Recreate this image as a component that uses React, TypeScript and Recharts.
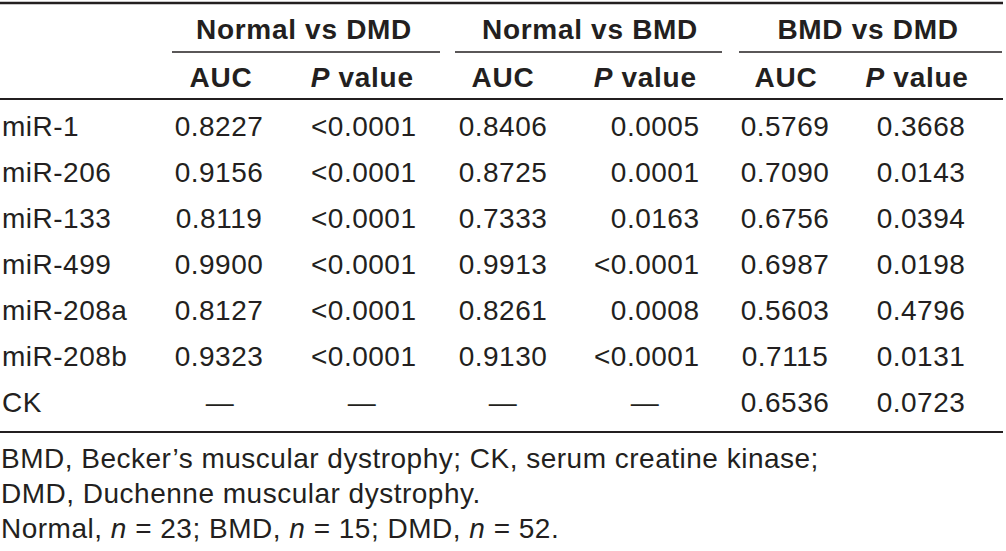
import { ReferenceLine, Scatter, ScatterChart, XAxis, YAxis } from 'recharts'

// table content
const groupTitles = ['Normal vs DMD', 'Normal vs BMD', 'BMD vs DMD']
const rowLabels = ['miR-1', 'miR-206', 'miR-133', 'miR-499', 'miR-208a', 'miR-208b', 'CK']
const aucNormalDmd = ['0.8227', '0.9156', '0.8119', '0.9900', '0.8127', '0.9323', '—']
const pNormalDmd = ['<0.0001', '<0.0001', '<0.0001', '<0.0001', '<0.0001', '<0.0001', '—']
const aucNormalBmd = ['0.8406', '0.8725', '0.7333', '0.9913', '0.8261', '0.9130', '—']
const pNormalBmd = ['0.0005', '0.0001', '0.0163', '<0.0001', '0.0008', '<0.0001', '—']
const aucBmdDmd = ['0.5769', '0.7090', '0.6756', '0.6987', '0.5603', '0.7115', '0.6536']
const pBmdDmd = ['0.3668', '0.0143', '0.0394', '0.0198', '0.4796', '0.0131', '0.0723']

type Part = { t: string; italic?: boolean }
const subHeaderAuc: Part[] = [{ t: 'AUC' }]
const subHeaderP: Part[] = [{ t: 'P', italic: true }, { t: ' value' }]
const footnotes: Part[][] = [
  [{ t: 'BMD, Becker’s muscular dystrophy; CK, serum creatine kinase;' }],
  [{ t: 'DMD, Duchenne muscular dystrophy.' }],
  [
    { t: 'Normal, ' },
    { t: 'n', italic: true },
    { t: ' = 23; BMD, ' },
    { t: 'n', italic: true },
    { t: ' = 15; DMD, ' },
    { t: 'n', italic: true },
    { t: ' = 52.' },
  ],
]

// layout
const W = 1006
const H = 551
const ROW_H = 46
const FIRST_BASELINE = 136
const FONT = '"Liberation Sans", Arial, Helvetica, sans-serif'
const INK = '#231f20'
const SIZE = 28

const atPx = (px: number) => (px - FIRST_BASELINE) / ROW_H

type Anchor = 'start' | 'middle' | 'end'
type Col = { values: string[]; x: number; anchor: Anchor; dashX: number; headX: number; headAnchor: Anchor; head: Part[] }

const cols: Col[] = [
  { values: aucNormalDmd, x: 219, anchor: 'middle', dashX: 220, headX: 221, headAnchor: 'middle', head: subHeaderAuc },
  { values: pNormalDmd, x: 416, anchor: 'end', dashX: 362, headX: 413, headAnchor: 'end', head: subHeaderP },
  { values: aucNormalBmd, x: 503, anchor: 'middle', dashX: 503, headX: 503, headAnchor: 'middle', head: subHeaderAuc },
  { values: pNormalBmd, x: 699, anchor: 'end', dashX: 645, headX: 696, headAnchor: 'end', head: subHeaderP },
  { values: aucBmdDmd, x: 785, anchor: 'middle', dashX: 785, headX: 786, headAnchor: 'middle', head: subHeaderAuc },
  { values: pBmdDmd, x: 921, anchor: 'middle', dashX: 921, headX: 917, headAnchor: 'middle', head: subHeaderP },
]
const groupX = [304, 590, 868]
const groupSpans = [
  [172, 440],
  [455, 722],
  [739, 1002],
]
const LABEL_X = 2
const HEAD1_Y = 39
const HEAD2_Y = 87
const FOOT_Y = [468, 503, 538]
const RULE_RIGHT = 1003

type Cell = { x: number; y: number; parts: Part[]; anchor: Anchor; bold?: boolean }

const headerCells: Cell[] = [
  ...groupTitles.map((t, g) => ({ x: groupX[g], y: atPx(HEAD1_Y), parts: [{ t }], anchor: 'middle' as Anchor, bold: true })),
  ...cols.map((c) => ({ x: c.headX, y: atPx(HEAD2_Y), parts: c.head, anchor: c.headAnchor, bold: true })),
]

const bodyCells: Cell[] = [
  ...rowLabels.map((t, i) => ({ x: LABEL_X, y: i, parts: [{ t }], anchor: 'start' as Anchor })),
  ...cols.flatMap((c) =>
    c.values.map((v, i) =>
      v === '—'
        ? { x: c.dashX, y: i, parts: [{ t: v }], anchor: 'middle' as Anchor }
        : { x: c.x, y: i, parts: [{ t: v }], anchor: c.anchor },
    ),
  ),
]

const footCells: Cell[] = footnotes.map((parts, k) => ({ x: LABEL_X - 1, y: atPx(FOOT_Y[k]), parts, anchor: 'start' as Anchor }))

function CellText(props: any) {
  const { cx, cy, payload } = props
  if (cx == null || cy == null || !payload) return null
  // end-anchored text gets the trailing letter-spacing too, so shift it back
  const ls = payload.bold ? 0.7 : 0.5
  const x = payload.anchor === 'end' ? cx + ls : cx
  return (
    <text
      x={x}
      y={cy}
      textAnchor={payload.anchor}
      fontSize={SIZE}
      fontWeight={payload.bold ? 700 : 400}
      fontFamily={FONT}
      fill={INK}
      letterSpacing={ls}
      style={{ whiteSpace: 'pre' }}
    >
      {payload.parts.map((p: Part, k: number) => (
        <tspan key={k} fontStyle={p.italic ? 'italic' : 'normal'}>
          {p.t}
        </tspan>
      ))}
    </text>
  )
}

const rules = [
  { y: 3, w: 2.5, from: 0, to: RULE_RIGHT },
  ...groupSpans.map(([a, b]) => ({ y: 52, w: 1.6, from: a, to: b })),
  { y: 99, w: 2, from: 0, to: RULE_RIGHT },
  { y: 432, w: 2, from: 0, to: RULE_RIGHT },
]

export default function App() {
  return (
    <div style={{ position: 'fixed', left: 0, top: 0, width: W, height: H, background: '#fff' }}>
      <ScatterChart width={W} height={H} margin={{ top: 0, right: 0, bottom: 0, left: 0 }}>
        <XAxis type="number" dataKey="x" domain={[0, W]} hide />
        <YAxis type="number" dataKey="y" domain={[atPx(0), atPx(H)]} reversed hide />
        {rules.map((r, k) => (
          <ReferenceLine
            key={k}
            segment={[
              { x: r.from, y: atPx(r.y) },
              { x: r.to, y: atPx(r.y) },
            ]}
            stroke={INK}
            strokeWidth={r.w}
            ifOverflow="visible"
          />
        ))}
        <Scatter data={headerCells} shape={CellText} isAnimationActive={false} />
        <Scatter data={bodyCells} shape={CellText} isAnimationActive={false} />
        <Scatter data={footCells} shape={CellText} isAnimationActive={false} />
      </ScatterChart>
    </div>
  )
}
